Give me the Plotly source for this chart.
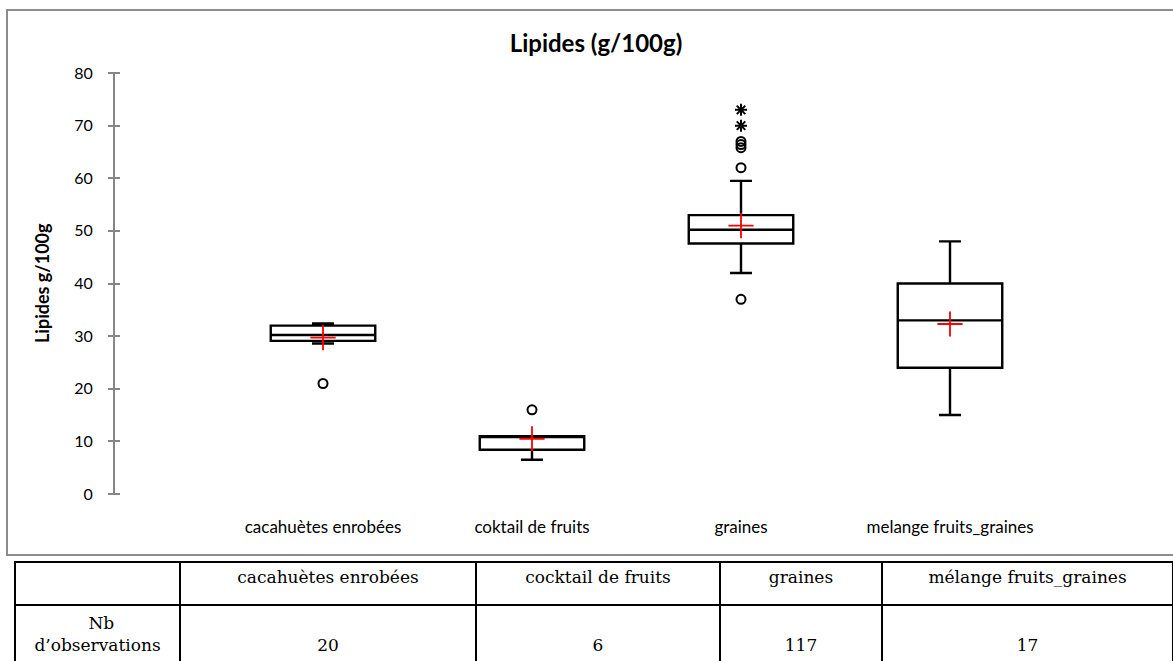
import plotly.graph_objects as go

# ---------------- data ----------------
categories = ["cacahuètes enrobées", "coktail de fruits", "graines", "melange fruits_graines"]
q1 = [29.1, 8.4, 47.6, 24.0]
median = [30.2, 11.0, 50.2, 33.0]
q3 = [32.0, 11.0, 53.0, 40.0]
lower_whisker = [28.6, 6.5, 42.0, 15.0]
upper_whisker = [32.4, 11.0, 59.5, 48.0]
means = [29.7, 10.5, 51.0, 32.3]

outlier_cat = ["cacahuètes enrobées", "coktail de fruits", "graines", "graines", "graines", "graines", "graines"]
outlier_val = [21.0, 16.0, 62.0, 67.0, 66.4, 65.8, 37.0]
extreme_cat = ["graines", "graines"]
extreme_val = [73.0, 70.0]

y_ticks = [0, 10, 20, 30, 40, 50, 60, 70, 80]

table_header = ["", "cacahuètes enrobées", "cocktail de fruits", "graines", "mélange fruits_graines"]
row_label = "\u00a0" * 10 + "Nb<br>d’observations"
n_obs = [20, 6, 117, 17]

# ---------------- layout geometry (px) ----------------
W, H = 1173, 661
PL, PR, PT, PB = 114, 1159, 73, 494   # plot area edges in px


def fx(p):
    return p / W


def fy(p):
    return (H - p) / H


FONT = "Lato, 'Open Sans', sans-serif"
SERIF = "'DejaVu Serif', serif"
AXIS_GRAY = "#868686"

fig = go.Figure()

fig.add_trace(go.Box(
    x=categories, q1=q1, median=median, q3=q3,
    lowerfence=lower_whisker, upperfence=upper_whisker,
    width=0.5, whiskerwidth=0.21,
    line=dict(color="black", width=2.4), fillcolor="white",
    boxpoints=False, showlegend=False, hoverinfo="y",
))

fig.add_trace(go.Scatter(
    x=outlier_cat, y=outlier_val, mode="markers", showlegend=False,
    marker=dict(symbol="circle-open", size=9, color="black", line=dict(width=2, color="black")),
))
fig.add_trace(go.Scatter(
    x=extreme_cat, y=extreme_val, mode="markers", showlegend=False,
    marker=dict(symbol="asterisk-open", size=10, color="black", line=dict(width=2, color="black")),
))
fig.add_trace(go.Scatter(
    x=categories, y=means, mode="markers", showlegend=False,
    marker=dict(symbol="cross-thin-open", size=18, color="red", line=dict(width=1.8, color="red")),
))

fig.add_trace(go.Table(
    domain=dict(x=[fx(15), 1], y=[0, fy(562)]),
    columnwidth=[165, 296, 244, 162, 291],
    header=dict(
        values=table_header, height=43, align="center",
        line=dict(color="black", width=2), fill=dict(color="white"),
        font=dict(family=SERIF, size=17, color="black"),
    ),
    cells=dict(
        values=[[row_label]] + [["\u00a0<br>" + str(n)] for n in n_obs],
        height=56, align="center",
        line=dict(color="black", width=2), fill=dict(color="white"),
        font=dict(family=SERIF, size=17, color="black"),
    ),
))

fig.update_layout(
    width=W, height=H,
    margin=dict(l=0, r=0, t=0, b=0, autoexpand=False),
    paper_bgcolor="white", plot_bgcolor="white",
    font=dict(family=FONT, size=16, color="black"),
    title=dict(
        text="<b>Lipides (g/100g)</b>", font=dict(family=FONT, size=24, color="black"),
        x=596 / W, xref="container", xanchor="center",
        y=1 - 44 / H, yref="container", yanchor="middle",
    ),
    xaxis=dict(
        domain=[fx(PL), fx(PR)],
        type="category", categoryorder="array", categoryarray=categories,
        range=[-1, 4], showline=False, showgrid=False, zeroline=False, ticks="",
        tickfont=dict(family=FONT, size=17, color="black"), ticklabelstandoff=21,
        fixedrange=True,
    ),
    yaxis=dict(
        domain=[fy(PB), fy(PT)], anchor="free", position=fx(PL + 6),
        range=[0, 80], tickvals=y_ticks, showline=False,
        ticks="outside", ticklen=12, tickwidth=2, tickcolor=AXIS_GRAY,
        showgrid=False, zeroline=False, ticklabelstandoff=12,
        tickfont=dict(family=FONT, size=16, color="black"),
    ),
    shapes=[
        dict(type="rect", xref="paper", yref="paper",
             x0=fx(7), x1=fx(1185), y0=fy(555), y1=fy(10),
             line=dict(color="#8c8c8c", width=2), fillcolor="rgba(0,0,0,0)", layer="below"),
        dict(type="line", xref="paper", yref="paper",
             x0=fx(PL), x1=fx(PL), y0=fy(PB), y1=fy(PT),
             line=dict(color=AXIS_GRAY, width=2), layer="above"),
    ],
    annotations=[dict(
        text="<b>Lipides g/100g</b>", textangle=-90, showarrow=False,
        xref="paper", yref="paper", x=fx(42), y=fy(283), xanchor="center", yanchor="middle",
        font=dict(family=FONT, size=18, color="black"),
    )],
)

fig.write_html("out.html")
